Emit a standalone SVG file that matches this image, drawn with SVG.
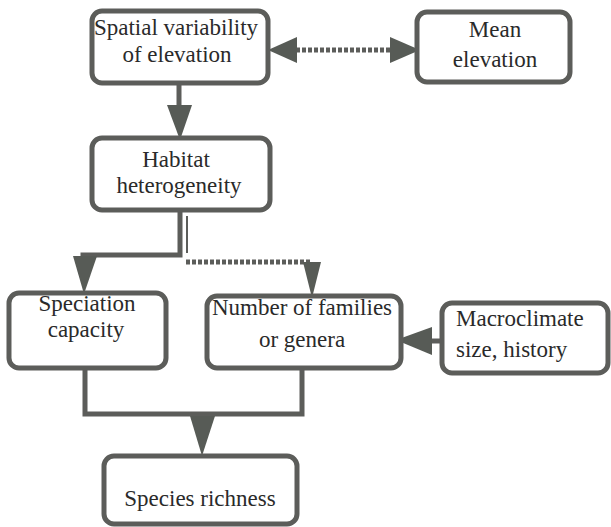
<svg xmlns="http://www.w3.org/2000/svg" width="611" height="527" viewBox="0 0 611 527">
<style>
.box{fill:#fff;stroke:#5c5d5a;stroke-width:5}
.t{font-size:23px;fill:#2a2a2a}
.c{text-anchor:middle}
.ln{stroke:#5c5d5a;stroke-width:5;fill:none}
.dot{stroke:#5c5d5a;stroke-width:5;fill:none;stroke-dasharray:4 2}
.thin{stroke:#5c5d5a;stroke-width:2;fill:none}
.hd{fill:#575b56}
</style>
<rect width="611" height="527" fill="#fff"/>
<g id="connectors">
  <line class="ln" x1="179" y1="83" x2="179" y2="108"/>
  <polygon class="hd" points="167,105 192,105 180,140"/>
  <line class="dot" x1="296" y1="50" x2="392" y2="50"/>
  <polygon class="hd" points="268,50 297,37 297,63"/>
  <polygon class="hd" points="420,50 390,37 390,63"/>
  <polyline class="ln" points="180,210 180,255 83,255 83,260"/>
  <polygon class="hd" points="73,256 97,256 84,294"/>
  <line class="thin" x1="187" y1="216" x2="187" y2="253"/>
  <line class="dot" x1="186" y1="262" x2="312" y2="262"/>
  <polygon class="hd" points="303,262 321,262 312,298"/>
  <line class="ln" x1="430" y1="341" x2="443" y2="341"/>
  <polygon class="hd" points="396,340 432,327 432,355"/>
  <polyline class="ln" points="85,368 85,414 302,414 302,368"/>
  <polygon class="hd" points="190,416 215,416 202,456"/>
</g>
<g font-family="Liberation Serif, Times New Roman, DejaVu Serif, serif">
<g id="spatial">
  <rect class="box" x="92" y="11" width="176" height="72" rx="10"/>
  <text class="t c" x="176" y="35">Spatial variability</text>
  <text class="t c" x="177" y="62">of elevation</text>
</g>
<g id="mean">
  <rect class="box" x="417" y="12" width="153" height="70" rx="10"/>
  <text class="t c" x="495" y="37">Mean</text>
  <text class="t c" x="495" y="67">elevation</text>
</g>
<g id="habitat">
  <rect class="box" x="92" y="138" width="178" height="72" rx="10"/>
  <text class="t c" x="176" y="167">Habitat</text>
  <text class="t c" x="179" y="193">heterogeneity</text>
</g>
<g id="speciation">
  <rect class="box" x="9" y="293" width="157" height="75" rx="10"/>
  <text class="t c" x="87" y="311">Speciation</text>
  <text class="t c" x="86" y="337">capacity</text>
</g>
<g id="families">
  <rect class="box" x="207" y="296" width="194" height="72" rx="10"/>
  <text class="t c" x="302" y="315">Number of families</text>
  <text class="t c" x="302" y="347">or genera</text>
</g>
<g id="macroclimate">
  <rect class="box" x="442" y="303" width="166" height="70" rx="10"/>
  <text class="t" x="456" y="326">Macroclimate</text>
  <text class="t" x="456" y="357">size, history</text>
</g>
<g id="species">
  <rect class="box" x="104" y="456" width="193" height="68" rx="10"/>
  <text class="t c" x="200" y="506">Species richness</text>
</g>
</g>
</svg>
